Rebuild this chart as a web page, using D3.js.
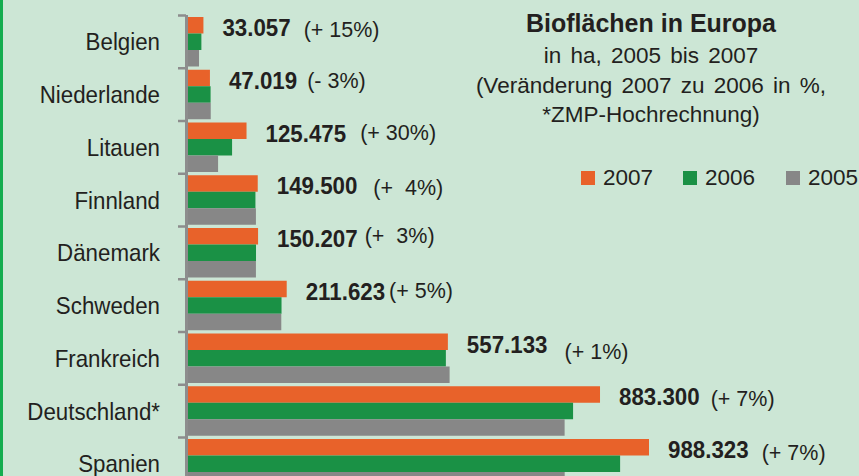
<!DOCTYPE html>
<html>
<head>
<meta charset="utf-8">
<script src="https://cdn.jsdelivr.net/npm/d3@7"></script>
<style>
 body { margin: 0; background: #cce6d5; }
 svg { display: block; font-family: "Liberation Sans", Arial, sans-serif; }
</style>
</head>
<body>
<script>
// *** chart data
var countries = ["Belgien", "Niederlande", "Litauen", "Finnland", "Dänemark", "Schweden", "Frankreich", "Deutschland*", "Spanien"];
var years = ["2007", "2006", "2005"];
var values2007 = [33057, 47019, 125475, 149500, 150207, 211623, 557133, 883300, 988323];
var values2006 = [28700, 48424, 94500, 144558, 145800, 200500, 552824, 825539, 926390];
var values2005 = [23600, 48765, 64500, 145600, 145600, 200000, 560838, 807406, 807569];
var changeLabels = ["(+ 15%)", "(- 3%)", "(+ 30%)", "(+  4%)", "(+  3%)", "(+ 5%)", "(+ 1%)", "(+ 7%)", "(+ 7%)"];

// *** hand nudges for the change labels (gap after the value, vertical shift)
var changeGap = [13, 10, 14, 16, 7, 4, 17, 11, 13];
var changeDy = [1, -1, -1.5, 1, -4.5, -1.5, 6, 1, 2];

var width = 859
var height = 476
var colors = { "2007": "#e8622a", "2006": "#1a9145", "2005": "#878787" };
var textColor = "#231f20";
var condense = 0.93;

var rows = countries.map(function(c, i) {
 return { country: c, "2007": values2007[i], "2006": values2006[i], "2005": values2005[i], change: changeLabels[i], i: i };
});

var deFormat = d3.formatLocale({ decimal: ",", thousands: ".", grouping: [3], currency: ["", " €"] }).format(",d");

var svg = d3.select("body")
 .append("svg")
 .attr("width", width)
 .attr("height", height);

svg.append("rect")
 .attr("width", width)
 .attr("height", height)
 .attr("fill", "#cce6d5");

// green stripe on the left edge
svg.append("rect")
 .attr("x", 0)
 .attr("y", 0)
 .attr("width", 3)
 .attr("height", height)
 .attr("fill", "#14ad4f");

var xScale = d3.scaleLinear()
 .domain([0, d3.max(values2007)])
 .range([188, 649]);

var yScale = d3.scaleBand()
 .domain(countries)
 .range([15, 15 + 9 * 52.75]);

var ySub = d3.scaleBand()
 .domain(years)
 .range([2, 51.5]);

// *** bars
var groups = svg.selectAll("g.row")
 .data(rows)
 .enter()
 .append("g")
 .attr("class", "row")
 .attr("transform", function(d) { return "translate(0," + yScale(d.country) + ")"; });

groups.selectAll("rect")
 .data(function(d) { return years.map(function(y) { return { year: y, value: d[y] }; }); })
 .enter()
 .append("rect")
 .attr("x", xScale(0))
 .attr("y", function(d) { return ySub(d.year); })
 .attr("width", function(d) { return xScale(d.value) - xScale(0); })
 .attr("height", ySub.bandwidth())
 .attr("fill", function(d) { return colors[d.year]; });

// *** axis: vertical line with ticks at the band edges
var axisColor = "#8d8d8d";
svg.append("line")
 .attr("x1", 186.5)
 .attr("x2", 186.5)
 .attr("y1", yScale(countries[0]))
 .attr("y2", height)
 .attr("stroke", axisColor)
 .attr("stroke-width", 3);

svg.selectAll("line.tick")
 .data(countries)
 .enter()
 .append("line")
 .attr("class", "tick")
 .attr("x1", 178)
 .attr("x2", 186)
 .attr("y1", function(d) { return yScale(d) + 0.5; })
 .attr("y2", function(d) { return yScale(d) + 0.5; })
 .attr("stroke", axisColor)
 .attr("stroke-width", 2.5);

// *** category labels
svg.selectAll("text.cat")
 .data(countries)
 .enter()
 .append("text")
 .attr("class", "cat")
 .attr("transform", function(d) { return "translate(160," + (yScale(d) + yScale.bandwidth() / 2 + 9) + ") scale(" + condense + ",1)"; })
 .attr("text-anchor", "end")
 .attr("font-size", 24)
 .attr("fill", textColor)
 .text(function(d) { return d; });

// *** value labels and change labels
groups.each(function(d) {
 var g = d3.select(this);
 var x0 = xScale(d["2007"]) + 19;
 var val = g.append("text")
  .attr("transform", "translate(" + x0 + ",21) scale(" + condense + ",1)")
  .attr("font-size", 24)
  .attr("font-weight", "bold")
  .attr("fill", textColor)
  .text(deFormat(d["2007"]));
 var w = val.node().getComputedTextLength() * condense;
 g.append("text")
  .attr("x", x0 + w + changeGap[d.i])
  .attr("y", 21 + changeDy[d.i])
  .attr("font-size", 21.5)
  .attr("fill", textColor)
  .style("white-space", "pre")
  .text(d.change);
});

// *** title block
var titleX = 651;
svg.append("text")
 .attr("x", titleX)
 .attr("y", 32)
 .attr("text-anchor", "middle")
 .attr("font-size", 25)
 .attr("font-weight", "bold")
 .attr("fill", textColor)
 .text("Bioflächen in Europa");

var subLines = ["in ha, 2005 bis 2007", "(Veränderung 2007 zu 2006 in %,", "*ZMP-Hochrechnung)"];
var subY = [63, 93, 121.5];
svg.selectAll("text.sub")
 .data(subLines)
 .enter()
 .append("text")
 .attr("class", "sub")
 .attr("x", titleX)
 .attr("y", function(d, i) { return subY[i]; })
 .attr("text-anchor", "middle")
 .attr("font-size", 22.5)
 .attr("word-spacing", 3)
 .attr("fill", textColor)
 .text(function(d) { return d; });

// *** legend
var legendX = [581, 683, 786];
var legend = svg.selectAll("g.legend")
 .data(years)
 .enter()
 .append("g")
 .attr("class", "legend")
 .attr("transform", function(d, i) { return "translate(" + legendX[i] + ",171)"; });

legend.append("rect")
 .attr("width", 14)
 .attr("height", 14)
 .attr("fill", function(d) { return colors[d]; });

legend.append("text")
 .attr("x", 22)
 .attr("y", 14)
 .attr("font-size", 22.5)
 .attr("fill", textColor)
 .text(function(d) { return d; });
</script>
</body>
</html>
